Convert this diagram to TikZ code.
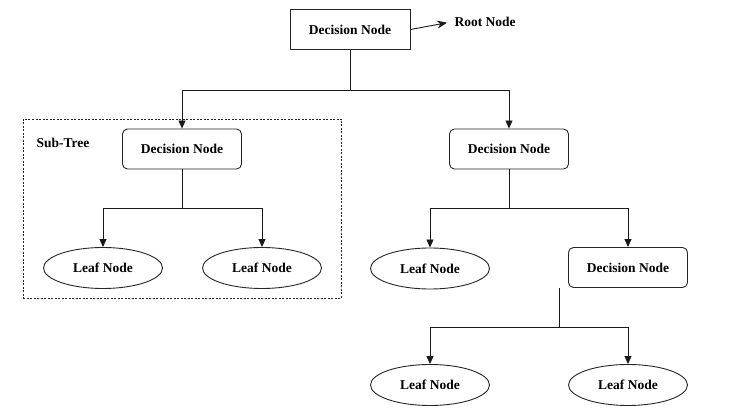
\documentclass[tikz,border=0pt]{standalone}
\usepackage{fontspec}
\setmainfont{Liberation Serif}
\usetikzlibrary{arrows.meta,shapes.geometric}
\begin{document}
\begin{tikzpicture}[x=1pt,y=-1pt,
  lbl/.style={font=\bfseries\fontsize{13.5}{15}\selectfont},
  rootbox/.style={draw=black!85,line width=0.9pt,minimum width=120pt,minimum height=40pt,inner sep=0pt,lbl},
  decbox/.style={draw=black!85,line width=0.9pt,rounded corners=5pt,minimum width=119pt,minimum height=40pt,inner sep=0pt,lbl},
  leaf/.style={draw=black!85,line width=0.9pt,ellipse,minimum width=119pt,minimum height=41pt,inner sep=0pt,lbl},
  conn/.style={draw=black!90,line width=0.9pt},
  arr/.style={conn,-{Triangle[width=7pt,length=8pt]}}]
\fill[white] (0,0) rectangle (753,411);
\useasboundingbox (0,0) rectangle (753,411);
% sub-tree frame
\draw[black!85,line width=0.8pt,dash pattern=on 2pt off 1.5pt] (23.5,119) rectangle (341.5,298);
\node[lbl,anchor=west] (sub) at (33,143) {Sub-Tree};
% nodes
\node[rootbox] (root) at (350,29.5) {Decision Node};
\node[lbl,anchor=west] (rootlbl) at (451,22) {Root Node};
\node[decbox] (dl) at (182,149) {Decision Node};
\node[decbox] (dr) at (509,149) {Decision Node};
\node[leaf] (l1) at (103,268) {Leaf Node};
\node[leaf] (l2) at (262,268) {Leaf Node};
\node[leaf] (l3) at (430,268.5) {Leaf Node};
\node[decbox] (d3) at (628,267.5) {Decision Node};
\node[leaf] (l4) at (430,385) {Leaf Node};
\node[leaf] (l5) at (628,385) {Leaf Node};
% coordinates
\coordinate (rs) at (350,90);
\coordinate (ls) at (182,208);
\coordinate (rrs) at (509,208);
\coordinate (d3top) at (559,288);
\coordinate (d3s) at (559,327);
% connectors
\draw[conn,shorten >=4pt,-{Stealth[length=10pt,width=8pt]}] (root.east) -- (rootlbl.west);
\draw[conn] (root.south) -- (rs);
\draw[arr] (rs) -| (dl.north);
\draw[arr] (rs) -| (dr.north);
\draw[conn] (dl.south) -- (ls);
\draw[arr] (ls) -| (l1.north);
\draw[arr] (ls) -| (l2.north);
\draw[conn] (dr.south) -- (rrs);
\draw[arr] (rrs) -| (l3.north);
\draw[arr] (rrs) -| (d3.north);
\draw[conn] (d3top) -- (d3s);
\draw[arr] (d3s) -| (l4.north);
\draw[arr] (d3s) -| (l5.north);
\end{tikzpicture}
\end{document}
